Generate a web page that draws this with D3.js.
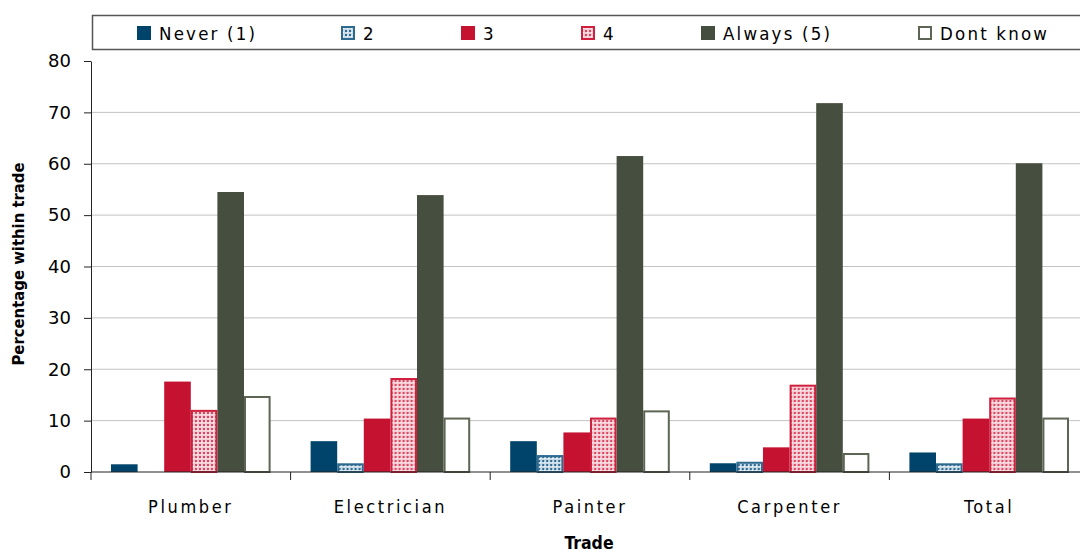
<!DOCTYPE html>
<html>
<head>
<meta charset="utf-8">
<script src="https://cdn.jsdelivr.net/npm/d3@7/dist/d3.min.js"></script>
<style>
  html, body { margin: 0; padding: 0; background: #fff; overflow: hidden; }
  svg { display: block; }
  text { font-family: "Liberation Sans Narrow", "DejaVu Sans Condensed", "Open Sans", sans-serif; fill: #000; }
</style>
</head>
<body>
<svg id="chart" width="1080" height="554"></svg>
<script>
// Trades surveyed and the response categories
const trades = ["Plumber", "Electrician", "Painter", "Carpenter", "Total"];
const responses = ["Never (1)", "2", "3", "4", "Always (5)", "Dont know"];

// Percentage within trade for each response, one array per response
const never     = [1.5, 6.0, 6.0, 1.7, 3.8];
const two       = [0.0, 1.5, 3.1, 1.8, 1.5];
const three     = [17.6, 10.4, 7.7, 4.8, 10.4];
const four      = [11.9, 18.1, 10.4, 16.8, 14.3];
const always    = [54.5, 53.9, 61.5, 71.8, 60.1];
const dontKnow  = [14.6, 10.4, 11.8, 3.5, 10.4];

const yTicks = [0, 10, 20, 30, 40, 50, 60, 70, 80];

const seriesValues = [never, two, three, four, always, dontKnow];

const svg = d3.select("#chart");
const defs = svg.append("defs");

// Dotted fills for the in-between responses
function dotPattern(id, bg, dot) {
  const p = defs.append("pattern")
    .attr("id", id).attr("patternUnits", "userSpaceOnUse")
    .attr("width", 4).attr("height", 4);
  p.append("rect").attr("width", 4).attr("height", 4).attr("fill", bg);
  p.append("rect").attr("x", 0).attr("y", 0).attr("width", 2).attr("height", 2).attr("fill", dot);
  p.append("rect").attr("x", 2).attr("y", 2).attr("width", 1).attr("height", 1).attr("fill", "#fff");
}
dotPattern("dots-blue", "#c9dbe6", "#2f6b91");
dotPattern("dots-red", "#f6cdd4", "#dc4660");

const styles = [
  { fill: "#00446c", stroke: "none" },
  { fill: "url(#dots-blue)", stroke: "#2e6a90" },
  { fill: "#c41230", stroke: "none" },
  { fill: "url(#dots-red)", stroke: "#d0203d" },
  { fill: "#464e3f", stroke: "none" },
  { fill: "#ffffff", stroke: "#5d6654" }
];

const x0 = d3.scaleBand().domain(trades).range([91, 1089]).paddingInner(0).paddingOuter(0);
const bw = x0.bandwidth();
const x1 = d3.scaleBand().domain(responses).range([20, bw - 20]).padding(0);
const y = d3.scaleLinear().domain([0, 80]).range([472, 61]);

// Horizontal gridlines
svg.append("g").selectAll("line")
  .data(yTicks.filter(t => t > 0 && t < 80))
  .join("line")
  .attr("x1", 91).attr("x2", 1089)
  .attr("y1", d => y(d)).attr("y2", d => y(d))
  .attr("stroke", "#c3c3c3").attr("stroke-width", 1);

// Bars
const groups = svg.append("g").selectAll("g")
  .data(trades)
  .join("g")
  .attr("transform", d => `translate(${x0(d)},0)`);

groups.selectAll("rect")
  .data((t, ti) => responses.map((r, ri) => ({ r, ri, v: seriesValues[ri][ti] })))
  .join("rect")
  .attr("x", d => x1(d.r) + (styles[d.ri].stroke !== "none" ? 1 : 0))
  .attr("width", d => x1.bandwidth() - (styles[d.ri].stroke !== "none" ? 2 : 0))
  .attr("y", d => y(d.v))
  .attr("height", d => y(0) - y(d.v))
  .attr("fill", d => styles[d.ri].fill)
  .attr("stroke", d => d.v > 0 ? styles[d.ri].stroke : "none")
  .attr("stroke-width", 2);

// Y axis
const yAxis = d3.axisLeft(y).tickValues(yTicks).tickSize(7).tickSizeOuter(0).tickPadding(13);
const gy = svg.append("g").attr("transform", "translate(91,0)").call(yAxis);
gy.select(".domain").attr("stroke", "#222");
gy.selectAll(".tick line").attr("stroke", "#222");
gy.selectAll(".tick text").style("font-family", "'DejaVu Sans', 'Open Sans', sans-serif")
  .style("font-size", "18px").attr("fill", "#000");

// X axis with boundary ticks between trades
const gx = svg.append("g");
gx.append("line").attr("x1", 91).attr("x2", 1089).attr("y1", y(0)).attr("y2", y(0)).attr("stroke", "#222");
gx.selectAll("line.sep")
  .data(trades.map(t => x0(t)).concat([x0(trades[trades.length - 1]) + bw]))
  .join("line").attr("class", "sep")
  .attr("x1", d => d).attr("x2", d => d)
  .attr("y1", y(0)).attr("y2", y(0) + 8).attr("stroke", "#222");
gx.selectAll("text")
  .data(trades)
  .join("text")
  .attr("x", d => x0(d) + bw / 2)
  .attr("y", 513)
  .attr("text-anchor", "middle")
  .style("font-size", "18px")
  .style("letter-spacing", "2.6px")
  .text(d => d);

// Axis titles
svg.append("text")
  .attr("x", 589).attr("y", 549)
  .attr("text-anchor", "middle")
  .style("font-size", "17.5px").style("font-weight", "bold")
  .text("Trade");
svg.append("text")
  .attr("transform", "translate(24,264) rotate(-90)")
  .attr("text-anchor", "middle")
  .style("font-size", "16.5px").style("font-weight", "bold")
  .text("Percentage within trade");

// Legend
const legend = svg.append("g");
legend.append("rect")
  .attr("x", 92.5).attr("y", 15.5).attr("width", 1000).attr("height", 34)
  .attr("fill", "#fff").attr("stroke", "#555").attr("stroke-width", 1.5);
const legendX = [137, 341, 461, 581, 701, 918];
const li = legend.selectAll("g.item")
  .data(responses)
  .join("g").attr("class", "item")
  .attr("transform", (d, i) => `translate(${legendX[i]},26)`);
li.append("rect")
  .attr("x", (d, i) => styles[i].stroke !== "none" ? 1 : 0)
  .attr("y", (d, i) => styles[i].stroke !== "none" ? 1 : 0)
  .attr("width", (d, i) => styles[i].stroke !== "none" ? 12 : 14)
  .attr("height", (d, i) => styles[i].stroke !== "none" ? 12 : 14)
  .attr("fill", (d, i) => styles[i].fill)
  .attr("stroke", (d, i) => styles[i].stroke)
  .attr("stroke-width", 2);
li.append("text")
  .attr("x", 22).attr("y", 14)
  .style("font-size", "18.5px")
  .style("letter-spacing", "2.2px")
  .text(d => d);
</script>
</body>
</html>
